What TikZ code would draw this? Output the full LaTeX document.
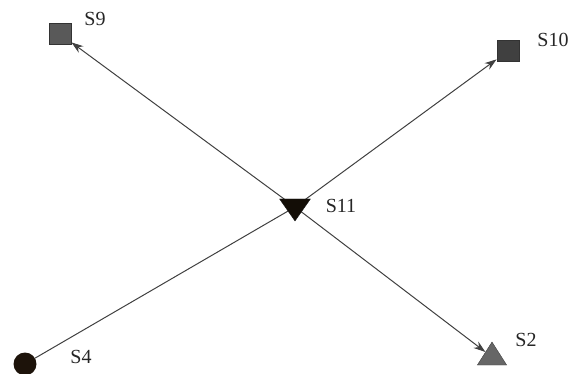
\documentclass[tikz,border=0pt]{standalone}
\usepackage{fontspec}
\setmainfont{Liberation Serif}
\usetikzlibrary{shapes.geometric,arrows.meta}
\pgfdeclarelayer{bg}
\pgfsetlayers{bg,main}
\begin{document}
\begin{tikzpicture}[x=1pt,y=-1pt,
  lbl/.style={font=\fontsize{20}{24}\selectfont, text=black!85, inner sep=0pt},
  sq/.style={rectangle, draw=black!80, line width=0.8pt, minimum width=22pt, minimum height=21pt, inner sep=0pt},
  edge/.style={draw=black!75, line width=1pt},
  arr/.style={edge, -{Stealth[length=12pt,width=8pt]}}]
\useasboundingbox (0,0) rectangle (572,374);
\node[sq, fill=black!65] (s9) at (60,34) {};
\node[sq, fill=black!75] (s10) at (508,51) {};
\node[isosceles triangle, isosceles triangle apex angle=70, shape border rotate=-90, fill=black!90!brown, draw=black!90, minimum height=22pt, inner sep=0pt] (s11) at (295,207) {};
\node[circle, fill=black!85!brown, minimum size=23pt, inner sep=0pt] (s4) at (25,364) {};
\node[isosceles triangle, isosceles triangle apex angle=65, shape border rotate=90, fill=black!60, draw=black!75, minimum height=23pt, inner sep=0pt] (s2) at (492,357) {};
\node[lbl] (l9) at (95,19) {S9};
\node[lbl] (l10) at (553,40) {S10};
\node[lbl] (l11) at (341,206) {S11};
\node[lbl] (l4) at (81,357) {S4};
\node[lbl] (l2) at (526,340) {S2};
\begin{pgfonlayer}{bg}
\draw[arr] (s11.center) -- (s9);
\draw[arr] (s11.center) -- (s10);
\draw[arr] (s11.center) -- (s2);
\draw[edge] (s4) -- (s11.center);
\end{pgfonlayer}
\end{tikzpicture}
\end{document}
